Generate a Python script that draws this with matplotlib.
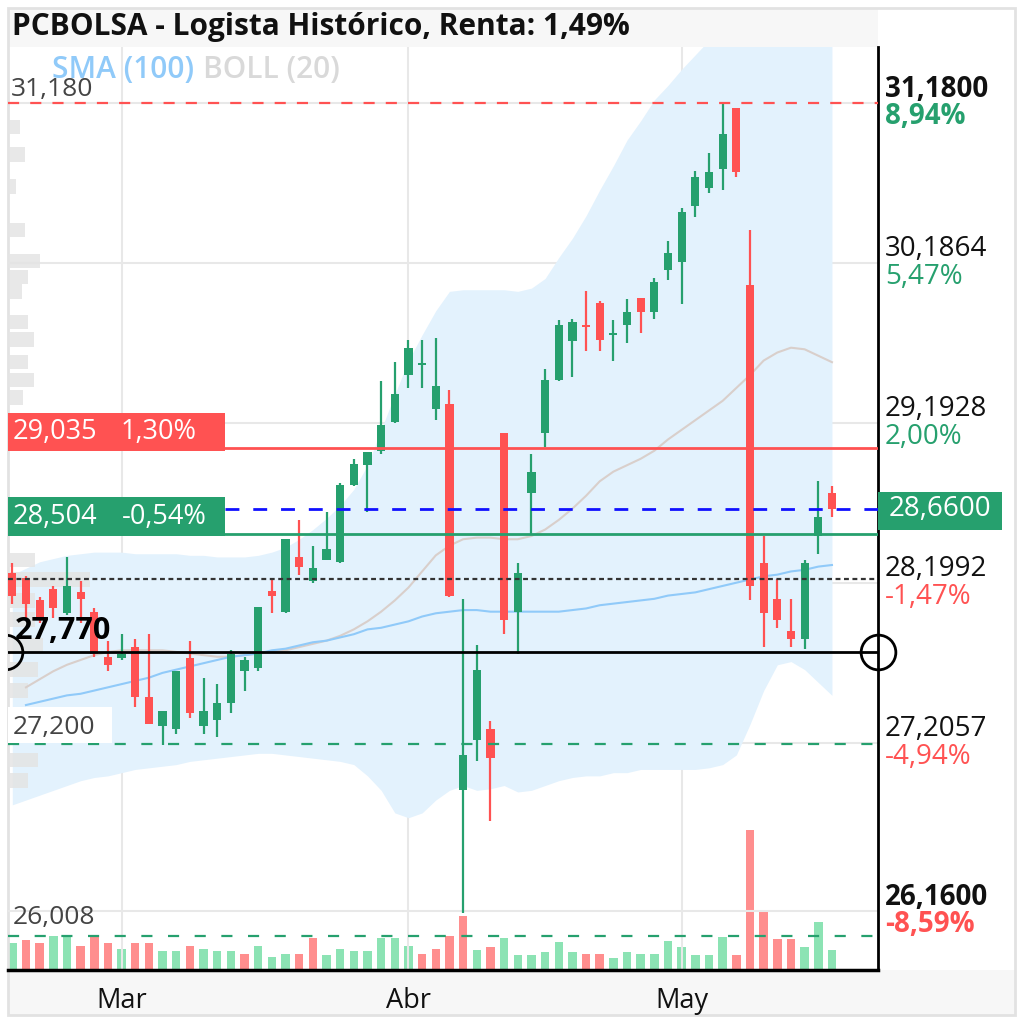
import matplotlib
matplotlib.use("Agg")
import matplotlib.pyplot as plt
from matplotlib.patches import Rectangle
import numpy as np

plt.rcParams['font.family'] = ['Open Sans', 'DejaVu Sans']

nan = np.nan

# daily OHLC, Feb-May
opens = [28.26, 28.23, 28.09, 28.16, 28.01, 28.14, 28.02, 27.74, 27.73, 27.80,
         27.49, 27.31, 27.29, 27.73, 27.31, 27.35, 27.45, 27.65, 27.67, 28.15,
         28.02, 28.36, 28.21, 28.34, 28.33, 28.81, 28.93, 29.02, 29.20, 29.49,
         29.55, 29.28, 29.31, 26.91, 27.22, 27.29, 29.13, 28.02, 28.76, 29.13,
         29.46, 29.70, 29.80, 29.94, 29.74, 29.80, 29.97, 29.88, 30.14, 30.19,
         30.54, 30.65, 30.77, 31.15, 30.05, 28.32, 28.10, 27.90, 27.85, 28.49, 28.76]
highs = [28.32, 28.24, 28.11, 28.18, 28.36, 28.21, 28.04, 27.84, 27.88, 27.85,
         27.88, 27.40, 27.65, 27.84, 27.61, 27.57, 27.78, 27.74, 28.05, 28.22,
         28.47, 28.59, 28.43, 28.64, 28.82, 28.97, 29.01, 29.45, 29.57, 29.71,
         29.71, 29.72, 29.40, 28.10, 27.81, 27.34, 29.13, 28.32, 29.00, 29.53,
         29.83, 29.84, 30.01, 29.95, 29.83, 29.96, 29.97, 30.09, 30.32, 30.53,
         30.76, 30.87, 31.18, 31.15, 30.39, 28.49, 28.22, 28.10, 28.34, 28.83, 28.80]
lows = [28.07, 27.98, 27.95, 27.98, 28.00, 27.95, 27.74, 27.65, 27.72, 27.43,
        27.32, 27.19, 27.26, 27.36, 27.26, 27.24, 27.39, 27.53, 27.65, 28.01,
        28.01, 28.25, 28.20, 28.34, 28.32, 28.80, 28.64, 29.00, 29.19, 29.41,
        29.41, 29.21, 28.11, 26.15, 27.09, 26.72, 27.88, 27.76, 28.50, 29.04,
        29.45, 29.48, 29.64, 29.64, 29.58, 29.69, 29.75, 29.84, 30.08, 29.93,
        30.47, 30.62, 30.64, 30.72, 28.09, 27.80, 27.92, 27.80, 27.79, 28.38, 28.61]
closes = [28.12, 28.07, 27.97, 28.04, 28.18, 28.10, 27.76, 27.69, 27.76, 27.49,
          27.32, 27.40, 27.65, 27.39, 27.40, 27.45, 27.76, 27.72, 28.05, 28.12,
          28.47, 28.30, 28.29, 28.41, 28.81, 28.94, 29.01, 29.18, 29.37, 29.66,
          29.56, 29.42, 28.12, 27.13, 27.66, 27.11, 27.97, 28.26, 28.89, 29.46,
          29.80, 29.82, 29.79, 29.71, 29.75, 29.88, 29.88, 30.07, 30.25, 30.50,
          30.72, 30.75, 30.99, 30.75, 28.18, 28.01, 27.97, 27.85, 28.32, 28.61, 28.66]
volume = [27, 30, 27, 34, 34, 24, 34, 27, 21, 27,
          27, 19, 19, 24, 21, 19, 19, 16, 24, 13,
          16, 16, 32, 15, 21, 19, 19, 32, 32, 24,
          16, 21, 34, 54, 20, 23, 32, 15, 15, 18,
          28, 18, 16, 16, 12, 18, 16, 16, 29, 23,
          15, 15, 33, 15, 140, 59, 31, 31, 23, 48, 20]

boll_upper = [28.25, 28.29, 28.33, 28.35, 28.37, 28.38, 28.39, 28.39, 28.39, 28.38,
              28.38, 28.38, 28.38, 28.37, 28.37, 28.36, 28.36, 28.36, 28.37, 28.39,
              28.42, 28.47, 28.53, 28.60, 28.68, 28.78, 28.93, 29.15, 29.37, 29.58,
              29.74, 29.89, 30.01, 30.02, 30.02, 30.02, 30.02, 30.01, 30.03, 30.09,
              30.22, 30.34, 30.48, 30.64, 30.79, 30.95, 31.07, 31.20, 31.29, 31.39,
              31.48, 31.57, 31.63, 31.66, 31.70, 31.71, 31.71, 31.70, 31.68, 31.66, 31.63]
boll_lower = [26.82, 26.85, 26.88, 26.91, 26.94, 26.97, 26.99, 27.00, 27.02, 27.04,
              27.05, 27.06, 27.07, 27.09, 27.10, 27.11, 27.12, 27.13, 27.14, 27.14,
              27.13, 27.12, 27.11, 27.10, 27.09, 27.07, 27.00, 26.91, 26.77, 26.74,
              26.77, 26.85, 26.91, 26.94, 26.91, 26.92, 26.94, 26.90, 26.91, 26.94,
              26.97, 26.99, 27.00, 27.00, 27.02, 27.02, 27.04, 27.04, 27.04, 27.04,
              27.04, 27.05, 27.07, 27.13, 27.32, 27.53, 27.69, 27.71, 27.66, 27.58, 27.50]
boll_mid = [nan, 27.55, 27.60, 27.65, 27.69, 27.72, 27.75, 27.77, 27.78, 27.78,
            27.78, 27.78, 27.77, 27.76, 27.75, 27.74, 27.74, 27.75, 27.76, 27.77,
            27.78, 27.80, 27.82, 27.84, 27.87, 27.91, 27.96, 28.02, 28.09, 28.17,
            28.27, 28.37, 28.43, 28.47, 28.48, 28.48, 28.47, 28.47, 28.49, 28.53,
            28.59, 28.66, 28.74, 28.83, 28.89, 28.93, 28.97, 29.02, 29.09, 29.15,
            29.21, 29.27, 29.33, 29.41, 29.49, 29.58, 29.63, 29.66, 29.65, 29.61, 29.57]
sma100 = [nan, 27.44, 27.46, 27.48, 27.50, 27.51, 27.53, 27.55, 27.57, 27.59,
          27.61, 27.64, 27.66, 27.68, 27.70, 27.72, 27.74, 27.75, 27.76, 27.78,
          27.79, 27.81, 27.83, 27.84, 27.86, 27.88, 27.91, 27.92, 27.94, 27.96,
          27.99, 28.01, 28.02, 28.03, 28.03, 28.02, 28.02, 28.02, 28.02, 28.02,
          28.02, 28.03, 28.04, 28.06, 28.07, 28.08, 28.09, 28.10, 28.12, 28.13,
          28.14, 28.16, 28.18, 28.20, 28.22, 28.24, 28.25, 28.27, 28.28, 28.30, 28.31]

# volume by price (left side)
profile_levels = [31.03, 30.86, 30.66, 30.39, 30.20, 30.10, 30.01, 29.82, 29.71, 29.57, 29.46,
                  29.35, 28.34, 28.22, 28.09, 27.97, 27.81, 27.66, 27.53, 27.35, 27.10, 26.97]
profile_size = [12, 17, 8, 17, 32, 20, 14, 20, 26, 20, 26,
                15, 27, 82, 27, 27, 35, 30, 20, 15, 30, 20]

month_ticks = [8, 29, 49]
month_labels = ['Mar', 'Abr', 'May']

right_ticks = [31.18, 30.1864, 29.1928, 28.1992, 27.2057, 26.16]
right_labels = ['31,1800', '30,1864', '29,1928', '28,1992', '27,2057', '26,1600']
right_pct = ['8,94%', '5,47%', '2,00%', '-1,47%', '-4,94%', '-8,59%']

last_price = 28.66
prev_close = 28.22
level_max = 31.18
level_min_ref = 26.008
support = 27.20
cursor = 27.77
stop_level = 29.035
stop_pct = '1,30%'
buy_level = 28.504
buy_pct = '-0,54%'

GREEN = '#26a06e'
RED = '#ff5252'
VGREEN = '#86e2b0'
VRED = '#ff8888'

W, H = 1020, 1025
fig = plt.figure(figsize=(W / 100, H / 100), dpi=100)
fig.patch.set_facecolor('white')

# frame, title band and date band
fig.patches.append(Rectangle((8 / W, 1 - 47 / H), 870 / W, 39 / H, transform=fig.transFigure,
                             facecolor='#f7f7f7', edgecolor='none', zorder=0))
fig.patches.append(Rectangle((8 / W, 1 - 1015 / H), 1007 / W, 45 / H, transform=fig.transFigure,
                             facecolor='#f7f7f7', edgecolor='none', zorder=0))
fig.patches.append(Rectangle((8 / W, 1 - 1015 / H), 1007 / W, 1007 / H, transform=fig.transFigure,
                             facecolor='none', edgecolor='#e2e2e2', lw=2, zorder=0))
fig.text(12 / W, 1 - 27 / H, 'PCBOLSA - Logista Histórico, Renta: 1,49%', fontsize=21.5,
         fontweight='bold', va='center', ha='left', color='#111111')

ax = fig.add_axes([8 / W, 55 / H, 870 / W, 923 / H])
ax2 = ax.twinx()
ax.set_zorder(ax2.get_zorder() + 1)
ax.patch.set_visible(False)

x = np.arange(len(closes))
o = np.array(opens)
c = np.array(closes)
hi = np.array(highs)
lo = np.array(lows)

# volume, coloured by change against the previous close
vcol = [VGREEN] + [VGREEN if c[i] >= c[i - 1] else VRED for i in range(1, len(c))]
ax2.bar(x, volume, width=0.62, color=vcol, alpha=0.95)
ax2.set_ylim(0, 923)
ax2.axis('off')

ax.set_xlim(-0.315, 63.37)
ax.set_ylim(25.794, 31.528)

# bollinger band and averages
ax.fill_between(x, boll_lower, boll_upper, color='#e3f2fd', lw=0, zorder=1)
ax.barh(profile_levels, np.array(profile_size) / 13.66, left=-0.315, height=0.09,
        color='#e4e4e4', alpha=0.85, zorder=1.5)
ax.plot(x, boll_mid, color='#d9cfcb', lw=1.5, zorder=2)
ax.plot(x, sma100, color='#90caf9', lw=1.5, zorder=2)

# grid
ax.set_yticks(right_ticks)
ax.set_xticks(month_ticks, month_labels)
ax.grid(True, color='#e8e8e8', lw=1.5, zorder=0)
ax.set_axisbelow(True)
ax.tick_params(axis='y', length=0, labelleft=False, labelright=False)
ax.tick_params(axis='x', length=0, pad=12, labelsize=19.5, labelcolor='#111111')
for s in ['left', 'top']:
    ax.spines[s].set_visible(False)
ax.spines['right'].set_linewidth(2)
ax.spines['bottom'].set_linewidth(2.5)

# candles
ccol = [GREEN if c[i] >= o[i] else RED for i in range(len(c))]
ax.vlines(x, lo, hi, colors=ccol, lw=1.6, zorder=4)
body_h = np.maximum(np.abs(c - o), 0.012)
ax.bar(x, body_h, bottom=np.minimum(o, c), width=0.6, color=ccol, zorder=4)

ytr = ax.get_yaxis_transform()
box_w = 217 / 870

# level lines
ax.axhline(level_max, color=RED, lw=1.6, ls=(0, (5, 5)), zorder=5)
ax.axhline(prev_close, color='#333333', lw=1.6, ls=(0, (2.2, 1.6)), zorder=5)
ax.axhline(cursor, color='black', lw=2, zorder=5)
ax.axhline(support, color=GREEN, lw=1.6, ls=(0, (5, 7)), zorder=5)
ax.axhline(level_min_ref, color=GREEN, lw=1.6, ls=(0, (5, 7)), zorder=5)
ax.plot([box_w, 1], [stop_level, stop_level], transform=ytr, color=RED, lw=2, zorder=5)
ax.plot([box_w, 1], [buy_level, buy_level], transform=ytr, color=GREEN, lw=2, zorder=5)
ax.plot([box_w, 1], [last_price, last_price], transform=ytr, color='#1010ff', lw=2,
        ls=(0, (5, 5)), zorder=5)

# cursor circles
ax.plot([-0.53], [cursor], 'o', ms=25, mfc='none', mec='black', mew=2, zorder=6)
ax.plot([63.37], [cursor], 'o', ms=25, mfc='none', mec='black', mew=2, zorder=6, clip_on=False)


def level_text(xf, level, txt, dy, **kw):
    ax.annotate(txt, xy=(xf, level), xycoords=ytr, xytext=(0, dy), textcoords='offset points',
                va='center', annotation_clip=False, zorder=8, **kw)


# order boxes on the left
ax.add_patch(Rectangle((0, stop_level - 0.017), box_w, 0.236, transform=ytr,
                       facecolor=RED, edgecolor='none', zorder=7))
level_text(0.005, stop_level, '29,035', 11.5, color='white', fontsize=19.5)
level_text(0.129, stop_level, stop_pct, 11.5, color='white', fontsize=19.5)
ax.add_patch(Rectangle((0, buy_level - 0.012), box_w, 0.24, transform=ytr,
                       facecolor=GREEN, edgecolor='none', zorder=7))
level_text(0.005, buy_level, '28,504', 12, color='white', fontsize=19.5)
level_text(0.131, buy_level, buy_pct, 12, color='white', fontsize=19.5)

# left level labels
ax.add_patch(Rectangle((0, support + 0.005), 104 / 870, 0.225, transform=ytr,
                       facecolor='white', edgecolor='none', zorder=6))
level_text(0.003, level_max, '31,180', 10, color='#444444', fontsize=19)
level_text(0.005, support, '27,200', 12, color='#444444', fontsize=19)
level_text(0.005, level_min_ref, '26,008', 13, color='#444444', fontsize=19)
level_text(0.008, cursor, '27,770', 15, color='black', fontsize=22, fontweight='bold')

# right axis labels
for i, (t, lab, pct) in enumerate(zip(right_ticks, right_labels, right_pct)):
    bold = i in (0, len(right_ticks) - 1)
    fw = 'bold' if bold else 'normal'
    pc = RED if pct.startswith('-') else GREEN
    level_text(1.008, t, lab, 10, color='#111111', fontsize=20, fontweight=fw)
    level_text(1.008, t, pct, -10, color=pc, fontsize=20, fontweight=fw)

ax.add_patch(Rectangle((1.0, last_price - 0.13), 124 / 870, 0.236, transform=ytr,
                       facecolor=GREEN, edgecolor='none', zorder=7, clip_on=False))
level_text(1.071, last_price, '28,6600', 0, color='white', fontsize=20, ha='center')

# indicator legend
fig.text(52 / W, 1 - 70 / H, 'SMA (100)', color='#90caf9', fontsize=21.5,
         fontweight='semibold', va='center')
fig.text(203 / W, 1 - 70 / H, 'BOLL (20)', color='#d9d9d9', fontsize=21.5,
         fontweight='semibold', va='center')

fig.savefig('out.png', dpi=100)
